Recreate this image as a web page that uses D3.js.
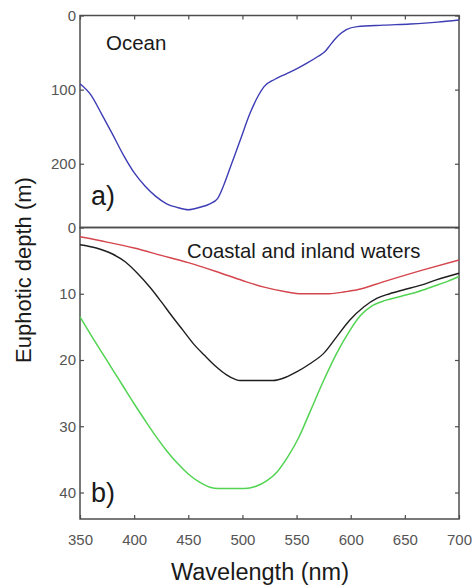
<!DOCTYPE html>
<html>
<head>
<meta charset="utf-8">
<script src="https://cdn.jsdelivr.net/npm/d3@7"></script>
<style>
  body{margin:0;background:#fff;}
  svg text{font-family:"Liberation Sans",Arial,sans-serif;}
</style>
</head>
<body>
<svg id="chart" width="472" height="585"></svg>
<script>
// ocean euphotic depth (m) vs wavelength (nm)
const oceanWl=[350,360,370,380,390,400,410,420,430,440,450,460,470,477,483,490,498,507,514,520,530,540,550,560,570,576,581,586,591,596,606,630,655,680,700]
const oceanDepth=[92,107,133,160,188,212,230,244,254,259,262,259,254,247,228,200,168,132,110,96,86,79,72,64,55,49,40,31,24,19,15,13,11.5,9,6]

// coastal and inland waters
const redWl=[350,375,400,425,450,475,500,520,540,555,580,595,606,630,667,700]
const redDepth=[1.4,2.2,3.1,4.2,5.3,6.6,8.0,9.0,9.7,10.0,10.0,9.7,9.4,8.2,6.4,4.9]

const blackWl=[350,365,380,392,403,415,425,435,445,455,465,475,485,493,498,528,540,550,562,575,587,599,612,624,636,649,665,679,700]
const blackDepth=[2.6,3.1,4.0,5.2,6.9,9.1,11.2,13.4,15.5,17.6,19.3,20.9,22.2,22.9,23.1,23.1,22.6,21.8,20.6,19,16.5,14,12,10.7,10.0,9.4,8.7,7.9,6.9]

const greenWl=[350,360,370,380,390,400,410,420,430,440,450,460,470,478,502,512,522,532,542,552,563,575,587,599,609,620,632,646,662,676,690,700]
const greenDepth=[13.5,16.2,18.8,21.4,24.0,26.6,29.1,31.5,33.7,35.6,37.2,38.4,39.2,39.4,39.4,39.1,38.3,36.9,34.6,31.7,27.6,23.1,19.0,15.6,13.3,11.8,11.0,10.4,9.7,8.9,8.1,7.4]

const xTicks=[350,400,450,500,550,600,650,700]
const topTicks=[0,100,200]
const botTicks=[0,10,20,30,40]

const svg=d3.select("#chart")
const axisColor="#4d4d4d"
const left=80,right=459

const x=d3.scaleLinear().domain([350,700]).range([left,right])
const yTop=d3.scaleLinear().domain([0,286]).range([15.5,227.5])
const yBot=d3.scaleLinear().domain([0,44]).range([227.5,519])

function series(wl,depth){return wl.map((w,i)=>[w,depth[i]])}

function styleAxis(g){
  g.select(".domain").remove()
  g.selectAll(".tick line").attr("stroke",axisColor).attr("stroke-width",1.2)
  g.selectAll(".tick text").attr("fill","#555").style("font-size","15px")
}

// top panel axes
svg.append("g").attr("transform",`translate(${left},0)`)
  .call(d3.axisLeft(yTop).tickValues(topTicks).tickSizeInner(-4).tickSizeOuter(0).tickPadding(4))
  .call(styleAxis)
svg.append("g").attr("transform",`translate(${right},0)`)
  .call(d3.axisRight(yTop).tickValues(topTicks).tickSizeInner(-4).tickSizeOuter(0).tickFormat(""))
  .call(styleAxis)
svg.append("g").attr("transform",`translate(0,${yTop(0)})`)
  .call(d3.axisTop(x).tickValues(xTicks).tickSizeInner(-4).tickSizeOuter(0).tickFormat(""))
  .call(styleAxis)

// bottom panel axes
svg.append("g").attr("transform",`translate(${left},0)`)
  .call(d3.axisLeft(yBot).tickValues(botTicks).tickSizeInner(-4).tickSizeOuter(0).tickPadding(4))
  .call(styleAxis)
svg.append("g").attr("transform",`translate(${right},0)`)
  .call(d3.axisRight(yBot).tickValues(botTicks).tickSizeInner(-4).tickSizeOuter(0).tickFormat(""))
  .call(styleAxis)
svg.append("g").attr("transform",`translate(0,${yBot(44)})`)
  .call(d3.axisBottom(x).tickValues(xTicks).tickSizeInner(-4).tickSizeOuter(0).tickPadding(15))
  .call(styleAxis)

// frames
svg.append("rect").attr("x",left).attr("y",yTop(0)).attr("width",right-left).attr("height",yTop(286)-yTop(0))
  .attr("fill","none").attr("stroke",axisColor).attr("stroke-width",1.5)
svg.append("rect").attr("x",left).attr("y",yBot(0)).attr("width",right-left).attr("height",yBot(44)-yBot(0))
  .attr("fill","none").attr("stroke",axisColor).attr("stroke-width",1.5)

const lineTop=d3.line().x(d=>x(d[0])).y(d=>yTop(d[1])).curve(d3.curveMonotoneX)
const lineBot=d3.line().x(d=>x(d[0])).y(d=>yBot(d[1])).curve(d3.curveMonotoneX)

svg.append("path").datum(series(oceanWl,oceanDepth)).attr("d",lineTop)
  .attr("fill","none").attr("stroke","#3c3cb4").attr("stroke-width",1.4)

svg.append("path").datum(series(redWl,redDepth)).attr("d",lineBot)
  .attr("fill","none").attr("stroke","#d4454d").attr("stroke-width",1.4)
svg.append("path").datum(series(blackWl,blackDepth)).attr("d",lineBot)
  .attr("fill","none").attr("stroke","#1e1e1e").attr("stroke-width",1.4)
svg.append("path").datum(series(greenWl,greenDepth)).attr("d",lineBot)
  .attr("fill","none").attr("stroke","#52d452").attr("stroke-width",1.5)

// panel labels
svg.append("text").attr("x",106).attr("y",50).text("Ocean").attr("fill","#1a1a1a").style("font-size","20.5px")
svg.append("text").attr("x",91).attr("y",205).text("a)").attr("fill","#1a1a1a").style("font-size","27px")
svg.append("text").attr("x",187).attr("y",258).text("Coastal and inland waters").attr("fill","#1a1a1a").style("font-size","20.3px")
svg.append("text").attr("x",91).attr("y",502).text("b)").attr("fill","#1a1a1a").style("font-size","27px")

// axis titles
svg.append("text").attr("x",260).attr("y",580).attr("text-anchor","middle")
  .text("Wavelength (nm)").attr("fill","#1a1a1a").style("font-size","23.5px")
svg.append("text").attr("transform","translate(31,270) rotate(-90)").attr("text-anchor","middle")
  .text("Euphotic depth (m)").attr("fill","#1a1a1a").style("font-size","22px")
</script>
</body>
</html>
